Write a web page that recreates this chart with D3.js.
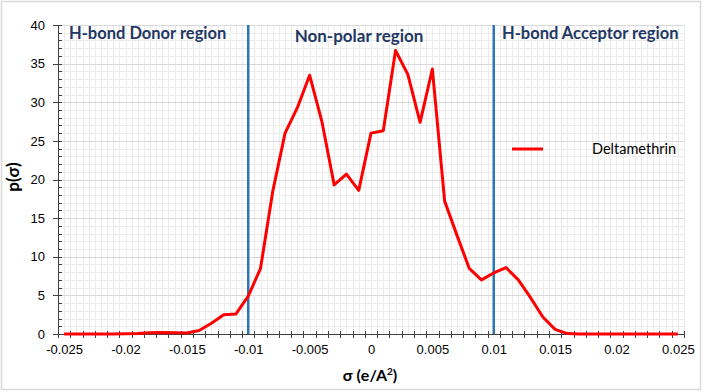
<!DOCTYPE html>
<html lang="en">
<head>
    <meta charset="UTF-8">
    <title>Sigma profile - Deltamethrin</title>
    <style>
        body {
            margin: 0;
            background: #ffffff;
        }

        svg {
            display: block;
            font-family: Lato, "Open Sans", sans-serif;
        }

        .axis text {
            font-size: 13px;
            fill: #000000;
        }

        .axis path,
        .axis line {
            stroke: #404040;
            shape-rendering: crispEdges;
        }

        .region-label {
            font-size: 16.5px;
            font-weight: bold;
            fill: #1f3864;
        }

        .axis-title {
            font-weight: bold;
            fill: #000000;
        }
    </style>
</head>
<body>
    <div id="chart"></div>

    <script src="https://d3js.org/d3.v7.min.js"></script>

    <script>
        // sigma (e/A^2) categories
        const sigma = [
            -0.025, -0.024, -0.023, -0.022, -0.021, -0.020, -0.019, -0.018, -0.017, -0.016,
            -0.015, -0.014, -0.013, -0.012, -0.011, -0.010, -0.009, -0.008, -0.007, -0.006,
            -0.005, -0.004, -0.003, -0.002, -0.001, 0.000, 0.001, 0.002, 0.003, 0.004,
            0.005, 0.006, 0.007, 0.008, 0.009, 0.010, 0.011, 0.012, 0.013, 0.014,
            0.015, 0.016, 0.017, 0.018, 0.019, 0.020, 0.021, 0.022, 0.023, 0.024, 0.025
        ];

        // p(sigma) for Deltamethrin
        const pSigma = [
            0, 0, 0, 0, 0, 0.02, 0.05, 0.15, 0.2, 0.15,
            0.12, 0.45, 1.4, 2.5, 2.6, 4.9, 8.5, 18.5, 26.0, 29.3,
            33.5, 27.5, 19.3, 20.7, 18.6, 26.0, 26.3, 36.7, 33.6, 27.4,
            34.3, 17.2, 12.8, 8.5, 7.0, 7.9, 8.6, 7.0, 4.7, 2.2,
            0.6, 0.05, 0, 0, 0, 0, 0, 0, 0, 0, 0
        ];

        const xTickLabels = ["-0.025", "-0.02", "-0.015", "-0.01", "-0.005", "0", "0.005", "0.01", "0.015", "0.02", "0.025"];
        const yTicks = [0, 5, 10, 15, 20, 25, 30, 35, 40];

        const regionBounds = [-0.01, 0.01];
        const regionNames = ["H-bond Donor region", "Non-polar region", "H-bond Acceptor region"];
        const seriesName = "Deltamethrin";

        const W = 703, H = 392;
        const plot = {left: 58, right: 684, top: 25, bottom: 334};
        const step = 0.001;

        const svg = d3.select("#chart").append("svg")
            .attr("width", W)
            .attr("height", H);

        // chart border
        svg.append("rect")
            .attr("x", 1.5).attr("y", 1.5)
            .attr("width", W - 4).attr("height", H - 4)
            .attr("fill", "#ffffff")
            .attr("stroke", "#d9d9d9")
            .attr("stroke-width", 1.5);

        const x = d3.scaleLinear()
            .domain([d3.min(sigma) - step / 2, d3.max(sigma) + step / 2])
            .range([plot.left, plot.right]);

        const y = d3.scaleLinear()
            .domain([0, 40])
            .range([plot.bottom, plot.top]);

        // grid lines
        const grid = svg.append("g").attr("shape-rendering", "crispEdges");
        const halfSteps = [];
        sigma.forEach(s => { halfSteps.push(s - step / 2); halfSteps.push(s); });
        halfSteps.push(d3.max(sigma) + step / 2);

        grid.selectAll("line.vminor")
            .data(halfSteps)
            .enter().append("line")
            .attr("x1", d => Math.round(x(d)) + 0.5).attr("x2", d => Math.round(x(d)) + 0.5)
            .attr("y1", plot.top).attr("y2", plot.bottom)
            .attr("stroke", "#ececec");

        grid.selectAll("line.hminor")
            .data(d3.range(0, 41, 1))
            .enter().append("line")
            .attr("x1", plot.left).attr("x2", plot.right)
            .attr("y1", d => Math.round(y(d)) + 0.5).attr("y2", d => Math.round(y(d)) + 0.5)
            .attr("stroke", "#ececec");

        grid.selectAll("line.hmajor")
            .data(yTicks)
            .enter().append("line")
            .attr("x1", plot.left).attr("x2", plot.right)
            .attr("y1", d => Math.round(y(d)) + 0.5).attr("y2", d => Math.round(y(d)) + 0.5)
            .attr("stroke", "#d9d9d9");

        // y axis
        svg.append("g")
            .attr("class", "axis")
            .attr("transform", "translate(" + plot.left + ",0)")
            .call(d3.axisRight(y).tickValues(d3.range(0, 41, 1)).tickSize(4).tickFormat(""))
            .select(".domain").remove();

        const yAxis = svg.append("g")
            .attr("class", "axis")
            .attr("transform", "translate(" + plot.left + ",0)")
            .call(d3.axisLeft(y).tickValues(yTicks).tickSizeOuter(0).tickSizeInner(5).tickPadding(8));
        yAxis.selectAll(".tick line").attr("x2", -5).attr("x1", 4);
        yAxis.select(".domain").attr("stroke-width", 1.5);

        // x axis: tick marks at category boundaries, labels at categories
        const bounds = sigma.map(s => s - step / 2).concat([d3.max(sigma) + step / 2]);
        const xMarks = svg.append("g")
            .attr("class", "axis")
            .attr("transform", "translate(0," + plot.bottom + ")")
            .call(d3.axisBottom(x).tickValues(bounds).tickSizeOuter(0).tickSize(4).tickFormat(""));
        xMarks.selectAll(".tick line").attr("y1", -3).attr("y2", 4);
        xMarks.select(".domain").attr("stroke-width", 1.5);

        svg.append("g")
            .attr("class", "axis")
            .attr("transform", "translate(0," + plot.bottom + ")")
            .call(d3.axisBottom(x).tickValues(xTickLabels.map(Number)).tickSize(0).tickPadding(11)
                .tickFormat((d, i) => xTickLabels[i]))
            .select(".domain").remove();

        // region boundaries
        svg.selectAll("line.region")
            .data(regionBounds)
            .enter().append("line")
            .attr("x1", d => x(d)).attr("x2", d => x(d))
            .attr("y1", plot.top).attr("y2", plot.bottom)
            .attr("stroke", "#2e75b6")
            .attr("stroke-width", 2.5);

        // data line
        const line = d3.line()
            .x((d, i) => x(sigma[i]))
            .y(d => y(d));

        svg.append("path")
            .datum(pSigma)
            .attr("fill", "none")
            .attr("stroke", "#ff0000")
            .attr("stroke-width", 3)
            .attr("stroke-linejoin", "round")
            .attr("d", line);

        // region labels
        const labelPos = [
            {x: 69, y: 39, anchor: "start", size: 16.5},
            {x: 359, y: 42, anchor: "middle", size: 17},
            {x: 502, y: 39, anchor: "start", size: 16.5}
        ];
        svg.selectAll("text.region-label")
            .data(regionNames)
            .enter().append("text")
            .attr("class", "region-label")
            .attr("x", (d, i) => labelPos[i].x)
            .attr("y", (d, i) => labelPos[i].y)
            .attr("text-anchor", (d, i) => labelPos[i].anchor)
            .style("font-size", (d, i) => labelPos[i].size + "px")
            .text(d => d);

        // legend
        svg.append("line")
            .attr("x1", 512).attr("x2", 543)
            .attr("y1", 149).attr("y2", 149)
            .attr("stroke", "#ff0000")
            .attr("stroke-width", 3);
        svg.append("text")
            .attr("x", 592).attr("y", 154)
            .style("font-size", "14.5px")
            .text(seriesName);

        // axis titles
        const xTitle = svg.append("text")
            .attr("class", "axis-title")
            .attr("x", 370).attr("y", 381)
            .attr("text-anchor", "middle")
            .style("font-size", "16px")
            .text("σ (e/A");
        xTitle.append("tspan").attr("baseline-shift", "super").style("font-size", "10px").text("2");
        xTitle.append("tspan").text(")");

        svg.append("text")
            .attr("class", "axis-title")
            .attr("transform", "translate(19,177) rotate(-90)")
            .attr("text-anchor", "middle")
            .style("font-size", "17px")
            .text("p(σ)");
    </script>
</body>
</html>
